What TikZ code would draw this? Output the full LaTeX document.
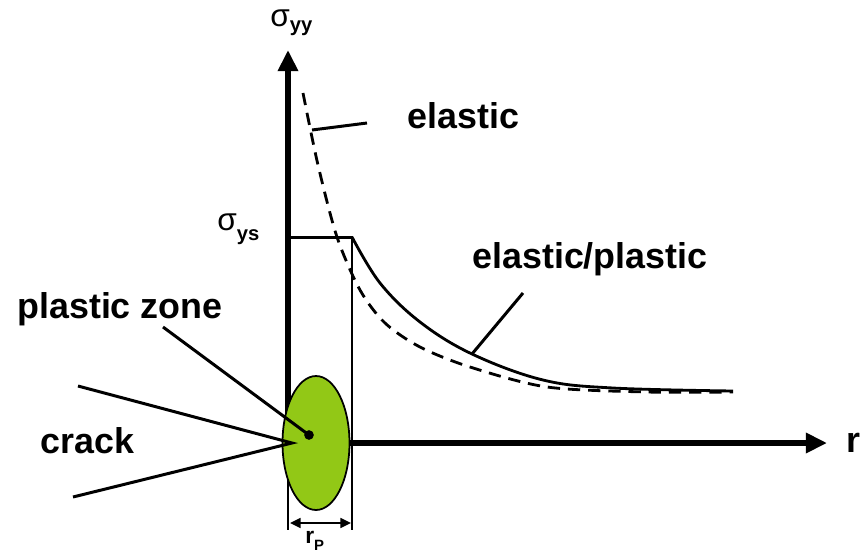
\documentclass[tikz,border=0pt]{standalone}
\usepackage{fontspec}
\setmainfont{Liberation Sans}
\usepackage{xcolor}
\usepackage{tikz}
\usetikzlibrary{positioning,shapes,arrows.meta,calc}

\definecolor{zonegreen}{RGB}{146,200,22}
\newcommand{\lowsub}[2]{\raisebox{-#1}{\fontsize{11.5}{13}\selectfont\bfseries #2}}

\tikzset{
  lbl/.style={font=\fontsize{20.4}{24}\selectfont\bfseries,inner sep=0pt,anchor=base west},
  siglbl/.style={font=\fontsize{18}{20}\selectfont,inner sep=0pt,anchor=base west},
  axis/.style={line width=3.4pt,-{Triangle[length=12pt,width=11pt]}},
  thinline/.style={line width=1.7pt},
  curve/.style={line width=1.6pt,line join=round},
  dimarrow/.style={line width=1.4pt,{Triangle[length=6pt,width=5.5pt]}-{Triangle[length=6pt,width=5.5pt]}}
}

\begin{document}
\begin{tikzpicture}[x=0.02cm,y=-0.02cm]
    \useasboundingbox (0,0) rectangle (866,552);

    % Axes and guide lines
    \coordinate (org) at (288,443);
    \coordinate (ytop) at (288,50);
    \coordinate (lbot) at (288,530);
    \coordinate (ys0) at (288,237);
    \coordinate (ys1) at (352,237);
    \coordinate (rbot) at (352,530);
    \coordinate (xend) at (827,443);
    \draw[axis] ($(org)+(0,-15)$) -- (ytop);
    \draw[thinline] (org) -- (lbot);
    \draw[thinline] (ys0) -- (ys1) -- (rbot);

    % Stress curves
    \draw[curve,dash pattern=on 7pt off 4.5pt] plot[smooth] coordinates {(303,93) (318,165) (337,237) (360,290) (385,323) (420,347) (470,367) (547,387) (647,392) (733,392)};
    \draw[curve] plot[smooth,tension=0.6] coordinates {(352,237) (380,283) (420,322) (472,354) (543,380) (613,388) (733,391)};

    % Plastic zone
    \node[draw,ellipse,fill=zonegreen,line width=1pt,inner sep=0pt,minimum width=1.34cm,minimum height=2.68cm] (zone) at (316,443) {};
    \draw[axis] (zone.east) -- (xend);
    \node[circle,fill=black,inner sep=0pt,minimum size=5.5pt] (ctr) at (309,435) {};

    % Crack
    \coordinate (tip) at (292,443);
    \coordinate (cup) at (78,386);
    \coordinate (clo) at (73,497);
    \draw[thinline] (cup) -- (tip) -- (clo);
    \node[lbl] (cracklbl) at (40,453) {crack};

    % Labels and leaders
    \node[lbl] (zonelbl) at (17,318) {plastic zone};
    \coordinate (zoneend) at (163,327);
    \draw[thinline] (zoneend) -- (ctr.center);

    \node[lbl] (ellbl) at (407,128) {elastic};
    \coordinate (elcurve) at (312,130);
    \coordinate (elend) at (367,123);
    \draw[thinline] (elcurve) -- (elend);

    \node[lbl] (eplbl) at (472,268) {elastic/plastic};
    \coordinate (epend) at (523,293);
    \coordinate (epcurve) at (472,354);
    \draw[thinline] (epend) -- (epcurve);

    \node[lbl] (rlbl) at (846,452) {r};
    \node[siglbl] (syy) at (270,26) {σ\lowsub{3.4pt}{yy}};
    \node[siglbl] (sys) at (217,230) {σ\lowsub{5.7pt}{ys}};

    % Plastic zone size
    \coordinate (dl) at (290,523);
    \coordinate (dr) at (351,523);
    \draw[dimarrow] (dl) -- (dr);
    \node[inner sep=0pt,anchor=base west,font=\fontsize{13}{15}\selectfont\bfseries] (rp) at (305,543) {r\raisebox{-4pt}{\fontsize{8.5}{10}\selectfont P}};
\end{tikzpicture}
\end{document}
